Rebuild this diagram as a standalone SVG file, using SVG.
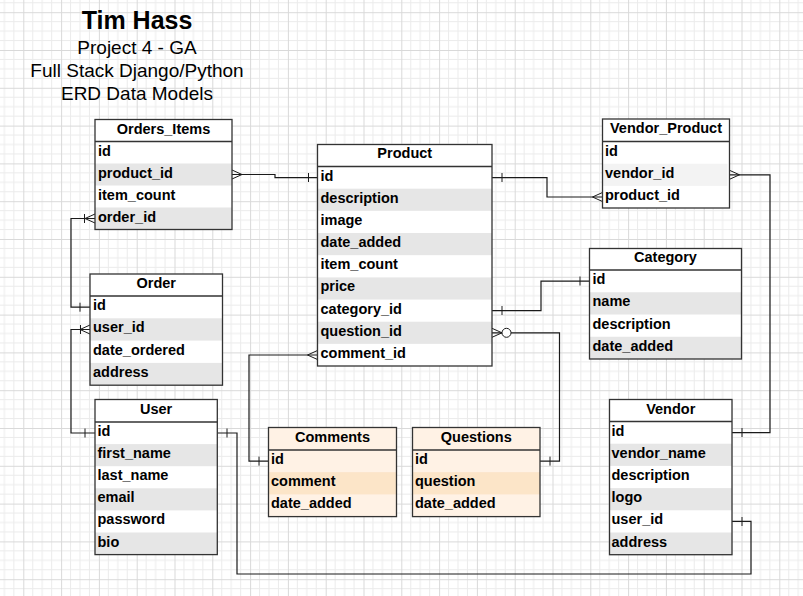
<svg xmlns="http://www.w3.org/2000/svg" width="803" height="596" viewBox="0 0 803 596">
<defs>
<pattern id="grid" patternUnits="userSpaceOnUse" x="23.3" y="12.2" width="37.8" height="37.8">
<path d="M9.45,0V37.8M18.9,0V37.8M28.35,0V37.8M0,9.45H37.8M0,18.9H37.8M0,28.35H37.8" stroke="#ebebeb" stroke-width="1" fill="none"/>
<path d="M0.5,0V37.8M0,0.5H37.8" stroke="#d9d9d9" stroke-width="1" fill="none"/>
</pattern>
<style>
.title{font-family:"Liberation Sans",Arial,sans-serif;fill:#000;text-anchor:middle}
.hd{font-family:"Liberation Sans",Arial,sans-serif;font-weight:bold;font-size:14.5px;fill:#000;text-anchor:middle}
.rw{font-family:"Liberation Sans",Arial,sans-serif;font-weight:bold;font-size:14.5px;fill:#000}
.bg{fill:#fff}
.sh{fill:#e6e6e6}
.sl{fill:#f3f3f3}
.obg{fill:#ffe6cc;fill-opacity:0.5}
.osh{fill:#fad7ac;fill-opacity:0.5}
.frame{fill:none;stroke:#333;stroke-width:1.3}
.cn{fill:none;stroke:#1a1a1a;stroke-width:1.2}
.mk{fill:none;stroke:#1a1a1a;stroke-width:1}
</style>
</defs>
<rect width="803" height="596" fill="#fff"/>
<rect width="803" height="596" fill="url(#grid)"/>

<g id="title">
<text class="title" x="137" y="29" font-size="25" font-weight="bold">Tim Hass</text>
<text class="title" x="137" y="54.3" font-size="19">Project 4 - GA</text>
<text class="title" x="137" y="77" font-size="19">Full Stack Django/Python</text>
<text class="title" x="137" y="100" font-size="19">ERD Data Models</text>
</g>

<g id="connectors">
<!-- Orders_Items.product_id -> Product.id -->
<path class="cn" d="M232,174.5H275V177.6H317.5"/>
<path class="mk" d="M232,170L242,174.5L232,179M308.5,173V182"/>
<!-- Order.id -> Orders_Items.order_id -->
<path class="cn" d="M90,307.2H71V218.5H95"/>
<path class="mk" d="M80,302.7V311.7M95,214L85,218.5L95,223M84.5,214V223"/>
<!-- Order.user_id -> User.id -->
<path class="cn" d="M90,329.5H71V433H95"/>
<path class="mk" d="M90,325L80,329.5L90,334M80.5,325V334M85,428.5V437.5"/>
<!-- User.id -> Vendor.user_id -->
<path class="cn" d="M217.3,433H237V574H751V521.4H732"/>
<path class="mk" d="M227,428.5V437.5M742,517V526"/>
<!-- Product.id -> Vendor_Product.product_id -->
<path class="cn" d="M492,177.6H547V197H602.5"/>
<path class="mk" d="M502,173V182M602.5,192.5L592.5,197L602.5,201.5"/>
<!-- Vendor_Product.vendor_id -> Vendor.id -->
<path class="cn" d="M729.5,174.8H770V432.6H732"/>
<path class="mk" d="M729.5,170.3L739.5,174.8L729.5,179.3M742,428V437"/>
<!-- Product.category_id -> Category.id -->
<path class="cn" d="M492,310.6H541V281.1H589.5"/>
<path class="mk" d="M502,306V315M580,276.5V285.5"/>
<!-- Product.question_id -> Questions.id -->
<path class="cn" d="M492,332.8H502M511,332.8H559.5V461.1H540"/>
<path class="mk" d="M492,328.3L502,332.8L492,337.3"/>
<circle cx="506.5" cy="332.8" r="4.5" fill="#fff" stroke="#1a1a1a" stroke-width="1"/>
<path class="mk" d="M550,456.6V465.6"/>
<!-- Product.comment_id -> Comments.id -->
<path class="cn" d="M317.5,355H249V461.1H268.5"/>
<path class="mk" d="M317.5,350.5L307.5,355L317.5,359.5M259,456.6V465.6"/>
</g>

<g id="orders_items">
<rect class="bg" x="95" y="119.5" width="137" height="110"/>
<rect class="sh" x="95" y="163.5" width="137" height="22"/>
<rect class="sh" x="95" y="207.5" width="137" height="22"/>
<rect class="frame" x="95" y="119.5" width="137" height="110"/>
<path class="frame" d="M95,141.5H232"/>
<text class="hd" x="163.5" y="133.5">Orders_Items</text>
<text class="rw" x="98" y="155.5">id</text>
<text class="rw" x="98" y="177.5">product_id</text>
<text class="rw" x="98" y="199.5">item_count</text>
<text class="rw" x="98" y="221.5">order_id</text>
</g>

<g id="product">
<rect class="bg" x="317.5" y="144.5" width="174.5" height="221.5"/>
<rect class="sh" x="317.5" y="188.67" width="174.5" height="22.17"/>
<rect class="sh" x="317.5" y="233" width="174.5" height="22.17"/>
<rect class="sh" x="317.5" y="277.4" width="174.5" height="22.17"/>
<rect class="sh" x="317.5" y="321.7" width="174.5" height="22.17"/>
<rect class="frame" x="317.5" y="144.5" width="174.5" height="221.5"/>
<path class="frame" d="M317.5,166.5H492"/>
<text class="hd" x="404.75" y="158.3">Product</text>
<text class="rw" x="320.5" y="180.5">id</text>
<text class="rw" x="320.5" y="202.7">description</text>
<text class="rw" x="320.5" y="224.8">image</text>
<text class="rw" x="320.5" y="247">date_added</text>
<text class="rw" x="320.5" y="269.2">item_count</text>
<text class="rw" x="320.5" y="291.4">price</text>
<text class="rw" x="320.5" y="313.5">category_id</text>
<text class="rw" x="320.5" y="335.7">question_id</text>
<text class="rw" x="320.5" y="357.9">comment_id</text>
</g>

<g id="vendor_product">
<rect class="bg" x="602.5" y="119" width="127" height="89"/>
<rect class="sl" x="602.5" y="163.7" width="125" height="22.2"/>
<rect class="frame" x="602.5" y="119" width="127" height="89"/>
<path class="frame" d="M602.5,141.5H729.5"/>
<text class="hd" x="666" y="133">Vendor_Product</text>
<text class="rw" x="605" y="155.5">id</text>
<text class="rw" x="605" y="177.7">vendor_id</text>
<text class="rw" x="605" y="199.9">product_id</text>
</g>

<g id="category">
<rect class="bg" x="589.5" y="248.5" width="152" height="110.5"/>
<rect class="sh" x="589.5" y="292.25" width="152" height="22.25"/>
<rect class="sh" x="589.5" y="336.75" width="152" height="22.25"/>
<rect class="frame" x="589.5" y="248.5" width="152" height="110.5"/>
<path class="frame" d="M589.5,270H741.5"/>
<text class="hd" x="665.5" y="262.3">Category</text>
<text class="rw" x="592.5" y="284">id</text>
<text class="rw" x="592.5" y="306.3">name</text>
<text class="rw" x="592.5" y="328.5">description</text>
<text class="rw" x="592.5" y="350.8">date_added</text>
</g>

<g id="order">
<rect class="bg" x="90" y="274" width="132.5" height="111.2"/>
<rect class="sh" x="90" y="318.3" width="132.5" height="22.3"/>
<rect class="sh" x="90" y="362.9" width="132.5" height="22.3"/>
<rect class="frame" x="90" y="274" width="132.5" height="111.2"/>
<path class="frame" d="M90,296H222.5"/>
<text class="hd" x="156.25" y="288">Order</text>
<text class="rw" x="93" y="310">id</text>
<text class="rw" x="93" y="332.3">user_id</text>
<text class="rw" x="93" y="354.6">date_ordered</text>
<text class="rw" x="93" y="376.9">address</text>
</g>

<g id="user">
<rect class="bg" x="95" y="399.5" width="122.3" height="155.1"/>
<rect class="sh" x="95" y="444.1" width="122.3" height="22.1"/>
<rect class="sh" x="95" y="488.3" width="122.3" height="22.1"/>
<rect class="sh" x="95" y="532.5" width="122.3" height="22.1"/>
<rect class="frame" x="95" y="399.5" width="122.3" height="155.1"/>
<path class="frame" d="M95,422H217.3"/>
<text class="hd" x="156.15" y="413.5">User</text>
<text class="rw" x="97.5" y="436">id</text>
<text class="rw" x="97.5" y="458.1">first_name</text>
<text class="rw" x="97.5" y="480.2">last_name</text>
<text class="rw" x="97.5" y="502.3">email</text>
<text class="rw" x="97.5" y="524.4">password</text>
<text class="rw" x="97.5" y="546.5">bio</text>
</g>

<g id="comments">
<rect class="bg" x="268.5" y="427.5" width="128" height="89.1"/>
<rect class="obg" x="268.5" y="427.5" width="128" height="89.1"/>
<rect class="osh" x="268.5" y="472.2" width="128" height="22.2"/>
<rect class="frame" x="268.5" y="427.5" width="128" height="89.1" stroke="#555"/>
<path class="frame" d="M268.5,450H396.5"/>
<text class="hd" x="332.5" y="441.5">Comments</text>
<text class="rw" x="271" y="464">id</text>
<text class="rw" x="271" y="486.2">comment</text>
<text class="rw" x="271" y="508.4">date_added</text>
</g>

<g id="questions">
<rect class="bg" x="412.5" y="427.5" width="127.5" height="89.1"/>
<rect class="obg" x="412.5" y="427.5" width="127.5" height="89.1"/>
<rect class="osh" x="412.5" y="472.2" width="127.5" height="22.2"/>
<rect class="frame" x="412.5" y="427.5" width="127.5" height="89.1"/>
<path class="frame" d="M412.5,450H540"/>
<text class="hd" x="476.25" y="441.5">Questions</text>
<text class="rw" x="415" y="464">id</text>
<text class="rw" x="415" y="486.2">question</text>
<text class="rw" x="415" y="508.4">date_added</text>
</g>

<g id="vendor">
<rect class="bg" x="609.5" y="399.5" width="122.5" height="155.2"/>
<rect class="sh" x="609.5" y="443.7" width="122.5" height="22.2"/>
<rect class="sh" x="609.5" y="488.1" width="122.5" height="22.2"/>
<rect class="sh" x="609.5" y="532.5" width="122.5" height="22.2"/>
<rect class="frame" x="609.5" y="399.5" width="122.5" height="155.2"/>
<path class="frame" d="M609.5,421.5H732"/>
<text class="hd" x="670.75" y="413.5">Vendor</text>
<text class="rw" x="611.5" y="435.5">id</text>
<text class="rw" x="611.5" y="457.7">vendor_name</text>
<text class="rw" x="611.5" y="479.9">description</text>
<text class="rw" x="611.5" y="502.1">logo</text>
<text class="rw" x="611.5" y="524.3">user_id</text>
<text class="rw" x="611.5" y="546.5">address</text>
</g>
</svg>
